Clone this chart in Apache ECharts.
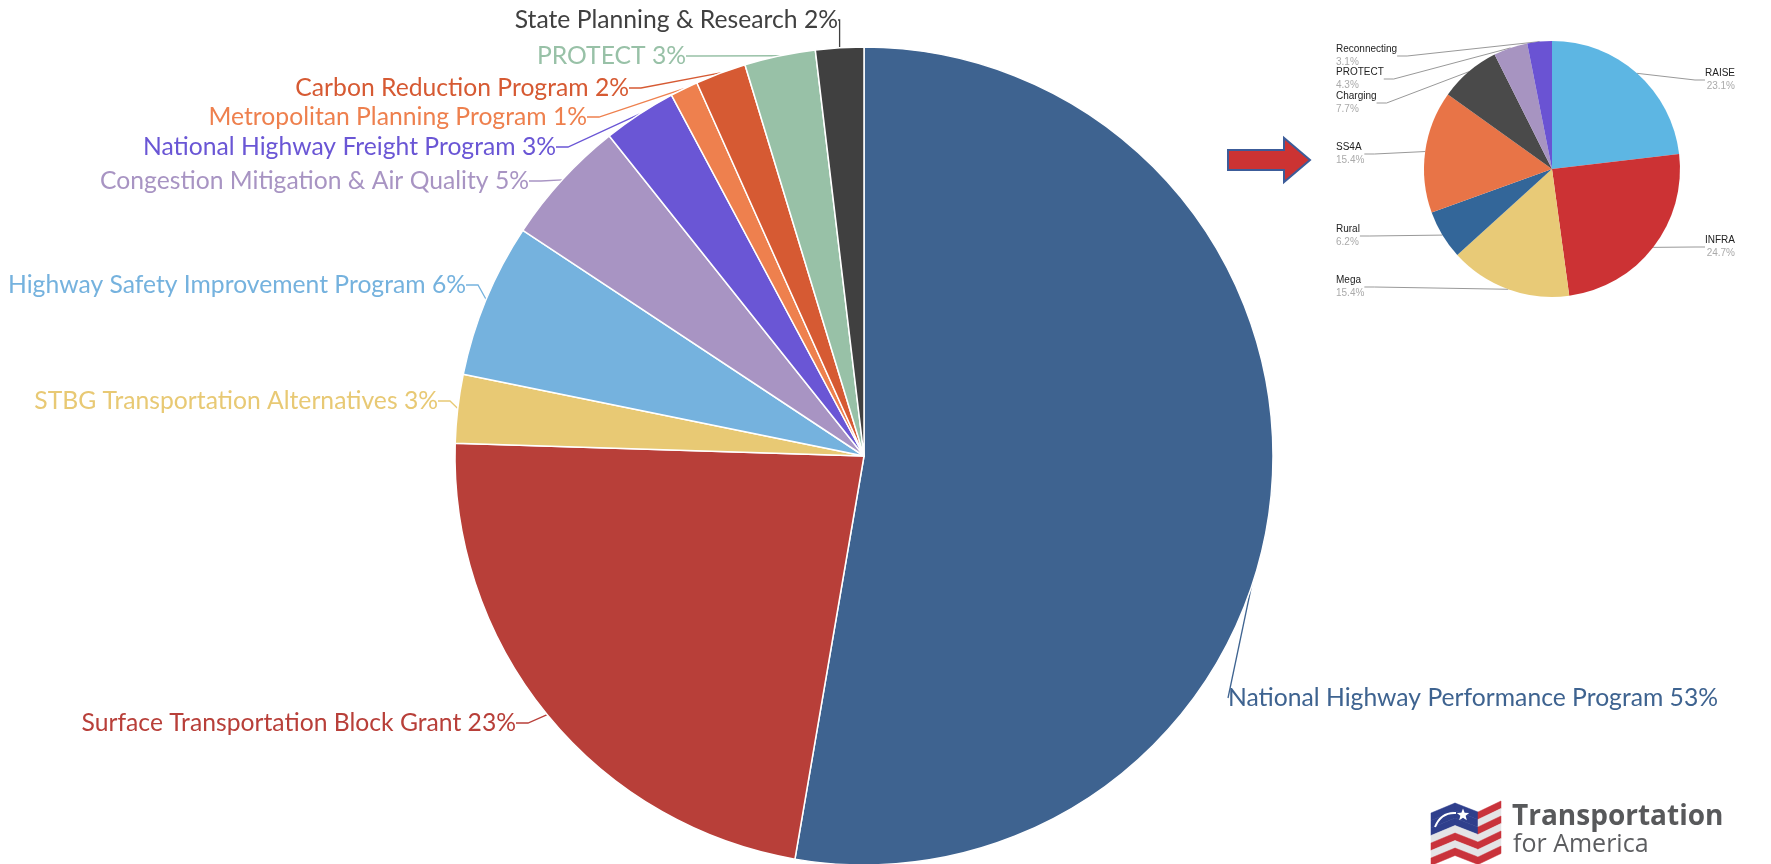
<!DOCTYPE html>
<html>
<head>
<meta charset="utf-8">
<title>Highway formula programs vs discretionary grants</title>
<script src="https://cdn.jsdelivr.net/npm/echarts@6/dist/echarts.min.js"></script>
<style>
  html, body { margin: 0; padding: 0; background: #fff; }
  #chart { width: 1771px; height: 864px; }
</style>
</head>
<body>
<div id="chart"></div>
<script>
// formula programs (share of total, %) — clockwise from 12 o'clock
const formulaNames = [
  'National Highway Performance Program',
  'Surface Transportation Block Grant',
  'STBG Transportation Alternatives',
  'Highway Safety Improvement Program',
  'Congestion Mitigation & Air Quality',
  'National Highway Freight Program',
  'Metropolitan Planning Program',
  'Carbon Reduction Program',
  'PROTECT',
  'State Planning & Research'
]
const formulaValues = [52.7, 22.8, 2.7, 6.1, 5.0, 2.9, 1.1, 2.0, 2.8, 1.9]

// discretionary grants (%)
const grantNames = ['RAISE', 'INFRA', 'Mega', 'Rural', 'SS4A', 'Charging', 'PROTECT', 'Reconnecting']
const grantValues = [23.1, 24.7, 15.4, 6.2, 15.4, 7.7, 4.3, 3.1]

const formulaColors = ['#3e6390', '#b83f39', '#e8c974', '#75b2de', '#a894c3', '#6a56d5', '#ee804e', '#d65a33', '#98c1a7', '#404040']
const grantColors = ['#5db6e3', '#cc3234', '#e8ca77', '#336699', '#e87447', '#4a4a4a', '#a794c1', '#6a53d3']

// where the big pie's labels sit: [x, y, align]
const formulaLabelPos = [
  [1228, 698, 'left'],
  [516, 723, 'right'],
  [438, 401, 'right'],
  [466, 285, 'right'],
  [529, 181, 'right'],
  [556, 147, 'right'],
  [587, 117, 'right'],
  [629, 88, 'right'],
  [686, 56, 'right'],
  [838, 20, 'right']
]
// vertical middle of the small pie's labels
const grantLabelY = [80, 247, 287, 236, 154, 103, 79, 56]

const chart = echarts.init(document.getElementById('chart'))

const formulaTotal = formulaValues.reduce((a, b) => a + b, 0)

// little flag for the logo
function flagShapes () {
  const shapes = []
  const panels = [[1431, 1455, 813, 803], [1455, 1478, 803, 812], [1478, 1501, 812, 801]]
  const h = 7.5
  panels.forEach(([x0, x1, y0, y1], pi) => {
    for (let k = 0; k < 7; k++) {
      let fill = k % 2 === 0 ? '#c9333b' : '#e4e4e6'
      if (k < 3 && pi < 2) fill = '#2f3f8c'
      shapes.push({
        type: 'polygon',
        shape: { points: [[x0, y0 + k * h], [x1, y1 + k * h], [x1, y1 + (k + 1) * h], [x0, y0 + (k + 1) * h]] },
        style: { fill: fill, stroke: fill, lineWidth: 0.5 }
      })
    }
  })
  // star
  const star = []
  const cx = 1463, cy = 815, ro = 6.5, ri = 2.8
  for (let i = 0; i < 10; i++) {
    const a = -Math.PI / 2 + i * Math.PI / 5
    const r = i % 2 === 0 ? ro : ri
    star.push([cx + r * Math.cos(a), cy + r * Math.sin(a)])
  }
  shapes.push({ type: 'polygon', shape: { points: star }, style: { fill: '#fff' } })
  shapes.push({
    type: 'bezierCurve',
    shape: { x1: 1435, y1: 827, cpx1: 1441, cpy1: 812, x2: 1456, y2: 813 },
    style: { stroke: '#fff', lineWidth: 2, fill: null }
  })
  return shapes
}

const option = {
  backgroundColor: '#fff',
  animation: false,
  series: [
    {
      type: 'pie',
      center: [864, 456],
      radius: 409,
      startAngle: 90,
      clockwise: true,
      avoidLabelOverlap: false,
      itemStyle: { borderColor: '#fff', borderWidth: 1.5 },
      label: {
        show: true,
        position: 'outside',
        fontFamily: 'Lato',
        fontSize: 24.7,
        formatter: p => p.name + ' ' + Math.round(p.value / formulaTotal * 100) + '%'
      },
      labelLine: { show: true, length: 12, length2: 12, lineStyle: { width: 1.3 } },
      labelLayout: params => {
        const p = formulaLabelPos[params.dataIndex]
        return { x: p[0], y: p[1], align: p[2], verticalAlign: 'middle' }
      },
      data: formulaNames.map((n, i) => ({
        name: n,
        value: formulaValues[i],
        itemStyle: { color: formulaColors[i] },
        label: { color: formulaColors[i] }
      }))
    },
    {
      type: 'pie',
      left: 1330,
      top: 30,
      width: 411,
      height: 280,
      center: [222, 139],
      radius: 128,
      startAngle: 90,
      clockwise: true,
      itemStyle: { borderWidth: 0 },
      label: {
        show: true,
        position: 'outside',
        alignTo: 'edge',
        edgeDistance: 6,
        fontFamily: 'Liberation Sans',
        lineHeight: 13,
        formatter: p => '{n|' + p.name + '}\n{p|' + p.value.toFixed(1) + '%}',
        rich: {
          n: { fontSize: 10, color: '#222', fontFamily: 'Liberation Sans', lineHeight: 13 },
          p: { fontSize: 10, color: '#aaa', fontFamily: 'Liberation Sans', lineHeight: 13 }
        }
      },
      labelLine: { show: true, length: 8, length2: 10, lineStyle: { color: '#999', width: 1 } },
      labelLayout: params => ({ y: grantLabelY[params.dataIndex], verticalAlign: 'middle' }),
      data: grantNames.map((n, i) => ({
        name: n,
        value: grantValues[i],
        itemStyle: { color: grantColors[i] }
      }))
    }
  ],
  graphic: [
    {
      type: 'polygon',
      shape: { points: [[1228, 150], [1284, 150], [1284, 138], [1310, 160], [1284, 182], [1284, 170], [1228, 170]] },
      style: { fill: '#cc3333', stroke: '#3c5c99', lineWidth: 2 }
    },
    {
      type: 'group',
      children: flagShapes()
    },
    {
      type: 'text',
      x: 1512,
      y: 817,
      style: { text: 'Transportation', fill: '#58595b', font: 'bold 28px "Open Sans"', verticalAlign: 'middle' }
    },
    {
      type: 'text',
      x: 1513,
      y: 845,
      style: { text: 'for America', fill: '#5c5d60', font: '25px "Open Sans"', verticalAlign: 'middle' }
    }
  ]
}

chart.setOption(option)
</script>
</body>
</html>
